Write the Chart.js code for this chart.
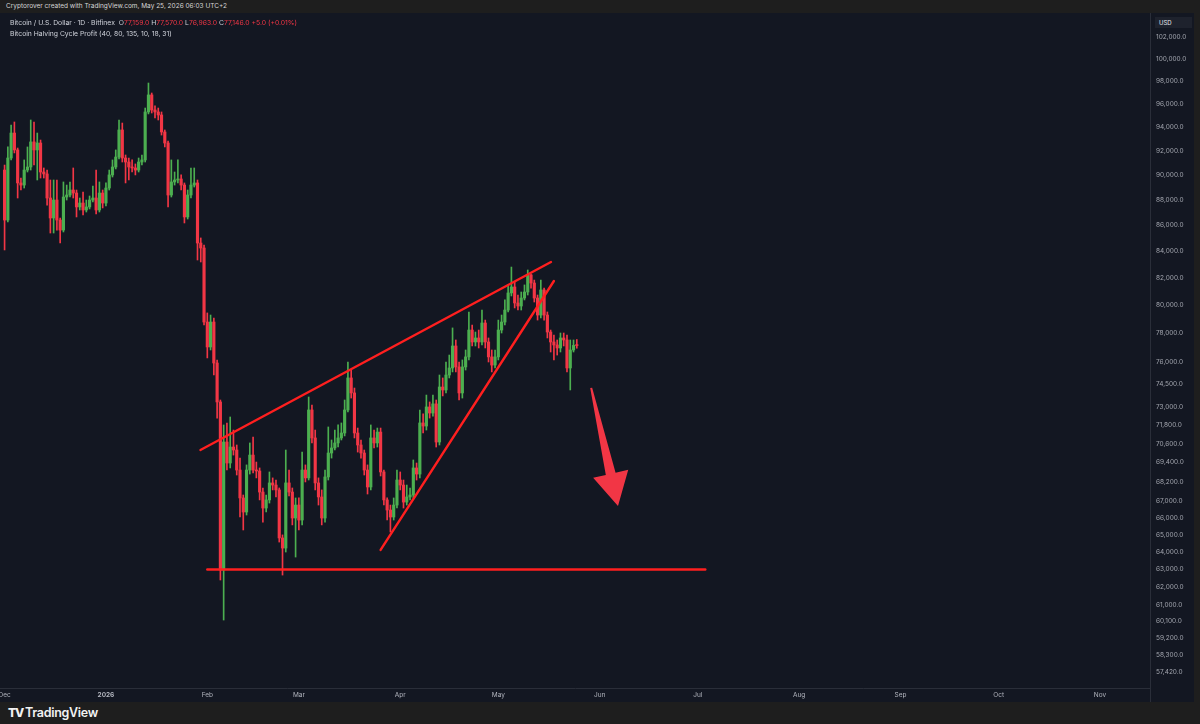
<!DOCTYPE html>
<html>
<head>
<meta charset="utf-8">
<title>BTCUSD 1D - Bitfinex</title>
<script src="https://cdn.jsdelivr.net/npm/chart.js@4.4.1/dist/chart.umd.min.js"></script>
<style>
html, body { margin: 0; padding: 0; background: #1e1e1e; }
body { width: 1200px; height: 724px; position: relative; overflow: hidden; font-family: Inter, "Liberation Sans", sans-serif; }
#credit { position: absolute; left: 0; top: 0; width: 1200px; height: 13px; padding-left: 6px; box-sizing: border-box;
  background: #1e1e1e; color: #d6d6d6; font-size: 6.5px; line-height: 13px; }
#pane { position: absolute; left: 0; top: 13px; width: 1194px; height: 689px; background: #131722; }
#chart { position: absolute; left: 0; top: 0; }
#legend { position: absolute; left: 10px; top: 4px; font-size: 6.8px; line-height: 11px; color: #d1d4dc; white-space: nowrap; }
#legend .dn { color: #f23645; }
#usd { position: absolute; left: 1155px; top: 4px; width: 37px; height: 11px; background: #1e222d; color: #e6e8ee;
  font-size: 6px; line-height: 11px; padding-left: 4px; box-sizing: border-box; }
#foot { position: absolute; left: 0; top: 702px; width: 1200px; height: 22px; background: #1e1e1e; color: #f2f2f2; }
#foot .logo { position: absolute; left: 8px; top: 0; font-size: 12px; line-height: 22px; font-weight: 800; letter-spacing: -1px; }
#foot .name { position: absolute; left: 25px; top: 0; font-size: 12.5px; line-height: 22px; font-weight: 600; letter-spacing: -0.3px; }
</style>
</head>
<body>
<div id="credit">Cryptorover created with TradingView.com, May 25, 2026 06:03 UTC+2</div>
<div id="pane">
  <canvas id="chart" width="1194" height="689"></canvas>
  <div id="legend">
    <div id="ohlc"></div>
    <div>Bitcoin Halving Cycle Profit (40, 80, 135, 10, 18, 31)</div>
  </div>
  <div id="usd">USD</div>
</div>
<div id="foot"><span class="logo">TV</span><span class="name">TradingView</span></div>

<script>
/* daily candles from 2025-12-01 (index 0) to 2026-05-25 */
const firstDay = '2025-12-01';

const opens = [
  90430, 86430, 91420, 93510, 92090, 89380, 89210, 90430, 90680, 92760,
  92090, 92670, 90270, 90110, 88170, 86590, 88010, 86430, 85650, 88250,
  88410, 88810, 88570, 87460, 87770, 87220, 87460, 88010, 88170, 87220,
  88570, 87770, 88970, 90030, 90680, 91500, 93770, 91420, 91090, 90680,
  90600, 90430, 91090, 91260, 95310, 96790, 95480, 95310, 95050, 93600,
  92670, 88410, 89460, 89620, 89700, 89210, 86670, 88410, 89210, 89380,
  84650, 84270, 78810, 77050, 78810, 75940, 73310, 62970, 70700, 69370,
  70380, 70190, 68930, 67210, 66360, 68930, 69870, 68930, 68870, 67570,
  66600, 67090, 68130, 68000, 67700, 64820, 64230, 68130, 67570, 66000,
  66780, 65880, 68930, 68440, 72780, 70960, 68130, 67270, 66000, 68500,
  70000, 70320, 70640, 70960, 71280, 72780, 74920, 73910, 71280, 70510,
  70000, 68930, 67880, 70960, 70640, 71340, 68810, 67090, 66480, 66060,
  66780, 68310, 68000, 66960, 67270, 67390, 69060, 68680, 71930, 71730,
  72980, 72580, 73180, 70700, 74310, 74110, 75120, 75600, 77120, 75670,
  73910, 75670, 76360, 78240, 77400, 77680, 77400, 78740, 77400, 76360,
  75800, 76360, 78240, 78810, 79670, 80910, 81350, 80180, 79960, 80540,
  80980, 82240, 81640, 80540, 79310, 81130, 79310, 78100, 77400, 77190,
  76980, 77680, 77540, 75600, 76840, 77159
];
const highs = [
  90840, 92340, 94190, 94450, 92250, 89780, 91260, 92340, 94620, 94450,
  93510, 92920, 90600, 90430, 89620, 89620, 89620, 86590, 89460, 89210,
  89460, 90600, 88810, 88170, 88650, 88010, 88330, 89130, 90430, 89460,
  88810, 89380, 90430, 91260, 92090, 94620, 94360, 91670, 91420, 91260,
  90930, 91420, 91670, 95650, 97840, 96960, 95830, 95650, 95310, 93770,
  92840, 91260, 90270, 91260, 90030, 89380, 88810, 90600, 90600, 89620,
  85040, 84500, 79460, 79310, 79100, 76150, 73440, 71800, 71930, 72320,
  71470, 70510, 69680, 67390, 69250, 70640, 71020, 69430, 69060, 67820,
  67390, 68810, 68440, 68310, 67820, 65000, 70190, 68930, 67820, 67210,
  67210, 70060, 69250, 73640, 73110, 71470, 68440, 67700, 68930, 71670,
  70830, 71470, 71800, 71930, 73440, 76010, 75460, 74240, 71600, 70830,
  70190, 69250, 71800, 71470, 71600, 71600, 68930, 67210, 66780, 67210,
  68930, 68810, 68310, 68000, 67820, 69560, 69370, 72780, 72520, 73770,
  73310, 73770, 73440, 75120, 74920, 76010, 76490, 78390, 77540, 76010,
  76150, 76840, 79530, 78600, 78100, 78240, 79670, 78950, 77680, 76840,
  76840, 78950, 79310, 80400, 81500, 82830, 81720, 80760, 80980, 81500,
  82610, 82310, 81860, 80760, 81860, 81270, 79530, 78240, 77890, 77540,
  78030, 78030, 77890, 77540, 77540, 77570
];
const lows = [
  84120, 86280, 91260, 91840, 88170, 88810, 88970, 90270, 90430, 90840,
  89620, 89780, 89780, 87610, 85420, 85420, 85650, 84650, 85500, 88010,
  88250, 88170, 86670, 87220, 86830, 87060, 87300, 87850, 86900, 87060,
  87380, 87540, 88810, 89860, 90520, 91340, 91090, 89380, 89620, 90270,
  90030, 90270, 90840, 91090, 95140, 95220, 94790, 94620, 93340, 92340,
  87460, 88250, 89210, 89380, 88810, 86200, 86510, 88170, 89050, 83360,
  83210, 78600, 76290, 76840, 75120, 72250, 62400, 60180, 68930, 69060,
  69870, 68620, 66060, 65290, 66180, 68680, 68750, 68440, 67090, 65760,
  66360, 66900, 67700, 67270, 64580, 62680, 64000, 67330, 65590, 63710,
  65290, 65590, 68190, 68310, 70640, 67700, 66780, 65590, 65760, 68310,
  69680, 70190, 70380, 70830, 71090, 72650, 73570, 70960, 70060, 69680,
  68620, 67450, 67700, 70320, 70380, 68560, 66780, 65880, 65170, 65880,
  66600, 67700, 66600, 66780, 67090, 67210, 68310, 68440, 71280, 71470,
  72250, 72380, 70380, 70510, 73710, 73910, 74920, 75330, 75330, 73440,
  73570, 75460, 76150, 77120, 77120, 76980, 77190, 76980, 76010, 75330,
  75600, 76150, 78030, 78600, 79530, 80690, 79820, 79670, 79670, 80400,
  80760, 81270, 80250, 78950, 79100, 78950, 77680, 76700, 76150, 76490,
  76700, 77120, 75330, 74110, 76700, 76963
];
const closes = [
  86430, 91420, 93510, 92090, 89380, 89210, 90430, 90680, 92760, 92090,
  92670, 90270, 90110, 88170, 86590, 88010, 86430, 85650, 88250, 88410,
  88810, 88570, 87460, 87770, 87220, 87460, 88010, 88170, 87220, 88570,
  87770, 88970, 90030, 90680, 91500, 93770, 91420, 91090, 90680, 90600,
  90430, 91090, 91260, 95310, 96790, 95480, 95310, 95050, 93600, 92670,
  88410, 89460, 89620, 89700, 89210, 86670, 88410, 89210, 89380, 84650,
  84270, 78810, 77050, 78810, 75940, 73310, 62970, 70700, 69370, 70380,
  70190, 68930, 67210, 66360, 68930, 69870, 68930, 68870, 67570, 66600,
  67090, 68130, 68000, 67700, 64820, 64230, 68130, 67570, 66000, 66780,
  65880, 68930, 68440, 72780, 70960, 68130, 67270, 66000, 68500, 70000,
  70320, 70640, 70960, 71280, 72780, 74920, 73910, 71280, 70510, 70000,
  68930, 67880, 70960, 70640, 71340, 68810, 67090, 66480, 66060, 66780,
  68310, 68000, 66960, 67270, 67390, 69060, 68680, 71930, 71730, 72980,
  72580, 73180, 70700, 74310, 74110, 75120, 75600, 77120, 75670, 73910,
  75670, 76360, 78240, 77400, 77680, 77400, 78740, 77400, 76360, 75800,
  76360, 78240, 78810, 79670, 80910, 81350, 80180, 79960, 80540, 80980,
  82240, 81640, 80540, 79310, 81130, 79310, 78100, 77400, 77190, 76980,
  77680, 77540, 75600, 76840, 77159, 77146
];

/* time axis: day offsets of month starts */
const monthDays = [0, 31, 62, 90, 121, 151, 182, 212, 243, 274, 304, 335];
const monthLabels = ['Dec', '2026', 'Feb', 'Mar', 'Apr', 'May', 'Jun', 'Jul', 'Aug', 'Sep', 'Oct', 'Nov'];

/* price axis labels */
const priceTicks = [
  102000, 100000, 98000, 96000, 94000, 92000, 90000, 88000, 86000, 84000,
  82000, 80000, 78000, 76000, 74500, 73000, 71800, 70600, 69400, 68200,
  67000, 66000, 65000, 64000, 63000, 62000, 61000, 60100, 59200, 58300, 57420
];

/* hand drawn lines: [day, price, day, price] */
const trendLines = [
  [59.9, 70190, 167.1, 83210],   // upper wedge
  [115, 64120, 168, 81790],      // lower wedge
  [62, 63000, 214.3, 63000]      // support
];
const arrowFrom = [179.4, 74250];
const arrowTo = [187.6, 66720];

const UP = '#4caf50';
const DOWN = '#f23645';
const fmt = v => v.toLocaleString('en-US', { minimumFractionDigits: 1, maximumFractionDigits: 1 });

/* legend line */
const last = closes.length - 1;
document.getElementById('ohlc').innerHTML =
  'Bitcoin / U.S. Dollar · 1D · Bitfinex&nbsp; ' +
  'O<span class="dn">' + fmt(opens[last]) + '</span> ' +
  'H<span class="dn">' + fmt(highs[last]) + '</span> ' +
  'L<span class="dn">' + fmt(lows[last]) + '</span> ' +
  'C<span class="dn">' + fmt(closes[last]) + '</span> ' +
  '<span class="dn">+5.0 (+0.01%)</span>';

const days = closes.map((_, i) => i);
const colors = closes.map((c, i) => c >= opens[i] ? UP : DOWN);

const drawings = {
  id: 'drawings',
  afterDatasetsDraw(chart) {
    const { ctx, chartArea: a, scales: { x, y } } = chart;
    ctx.save();
    ctx.beginPath();
    ctx.rect(a.left, a.top, a.right - a.left, a.bottom - a.top);
    ctx.clip();

    ctx.strokeStyle = '#ff1f1f';
    ctx.lineWidth = 2.4;
    ctx.lineCap = 'round';
    trendLines.forEach(l => {
      ctx.beginPath();
      ctx.moveTo(x.getPixelForValue(l[0]), y.getPixelForValue(l[1]));
      ctx.lineTo(x.getPixelForValue(l[2]), y.getPixelForValue(l[3]));
      ctx.stroke();
    });

    // tapered arrow
    const x0 = x.getPixelForValue(arrowFrom[0]), y0 = y.getPixelForValue(arrowFrom[1]);
    const x1 = x.getPixelForValue(arrowTo[0]), y1 = y.getPixelForValue(arrowTo[1]);
    const len = Math.hypot(x1 - x0, y1 - y0);
    const ux = (x1 - x0) / len, uy = (y1 - y0) / len;
    const nx = -uy, ny = ux;
    const bx = x1 - ux * 33, by = y1 - uy * 33;
    ctx.fillStyle = DOWN;
    ctx.beginPath();
    ctx.moveTo(x0 + nx * 1, y0 + ny * 1);
    ctx.lineTo(bx + nx * 5, by + ny * 5);
    ctx.lineTo(bx + nx * 18, by + ny * 18);
    ctx.lineTo(x1, y1);
    ctx.lineTo(bx - nx * 18, by - ny * 18);
    ctx.lineTo(bx - nx * 5, by - ny * 5);
    ctx.lineTo(x0 - nx * 1, y0 - ny * 1);
    ctx.closePath();
    ctx.fill();
    ctx.restore();

    // separator of the price scale through the time axis row
    ctx.save();
    ctx.strokeStyle = '#2a2e39';
    ctx.lineWidth = 1;
    ctx.beginPath();
    ctx.moveTo(a.right + 0.5, 0);
    ctx.lineTo(a.right + 0.5, chart.height);
    ctx.stroke();
    ctx.restore();
  }
};

new Chart(document.getElementById('chart'), {
  type: 'bar',
  data: {
    datasets: [
      {
        label: 'wicks',
        data: days.map(i => ({ x: i, y: [lows[i], highs[i]] })),
        backgroundColor: colors,
        barThickness: 1,
        grouped: false,
        order: 2
      },
      {
        label: 'bodies',
        data: days.map(i => ({ x: i, y: [opens[i], closes[i]] })),
        backgroundColor: colors,
        barThickness: 2.5,
        minBarLength: 1,
        grouped: false,
        order: 1
      }
    ]
  },
  options: {
    responsive: false,
    animation: false,
    layout: { padding: 0 },
    plugins: { legend: { display: false }, tooltip: { enabled: false } },
    scales: {
      x: {
        type: 'linear',
        min: -1.4,
        max: 350.3,
        offset: false,
        grid: { display: false, drawTicks: false },
        border: { color: '#2a2e39' },
        afterBuildTicks: s => { s.ticks = monthDays.map(v => ({ value: v })); },
        afterFit: s => { s.height = 14; s.paddingLeft = 0; s.paddingRight = 0; },
        ticks: {
          autoSkip: false,
          maxRotation: 0,
          padding: 3,
          color: '#b2b5be',
          font: c => ({ size: 6.5, family: 'Inter, "Liberation Sans", sans-serif',
            weight: c.tick && c.tick.value === 31 ? 'bold' : 'normal' }),
          callback: v => monthLabels[monthDays.indexOf(v)]
        }
      },
      y: {
        type: 'logarithmic',
        position: 'right',
        min: 56590,
        max: 104240,
        bounds: 'data',
        grid: { display: false, drawTicks: false },
        border: { color: '#2a2e39' },
        afterBuildTicks: s => { s.ticks = priceTicks.map(v => ({ value: v })); },
        afterFit: s => { s.width = 44; s.paddingTop = 0; s.paddingBottom = 0; },
        ticks: {
          autoSkip: false,
          padding: 6,
          color: '#a3a6af',
          font: { size: 6.5, family: 'Inter, "Liberation Sans", sans-serif' },
          callback: v => fmt(v)
        }
      }
    }
  },
  plugins: [drawings]
});
</script>
</body>
</html>
